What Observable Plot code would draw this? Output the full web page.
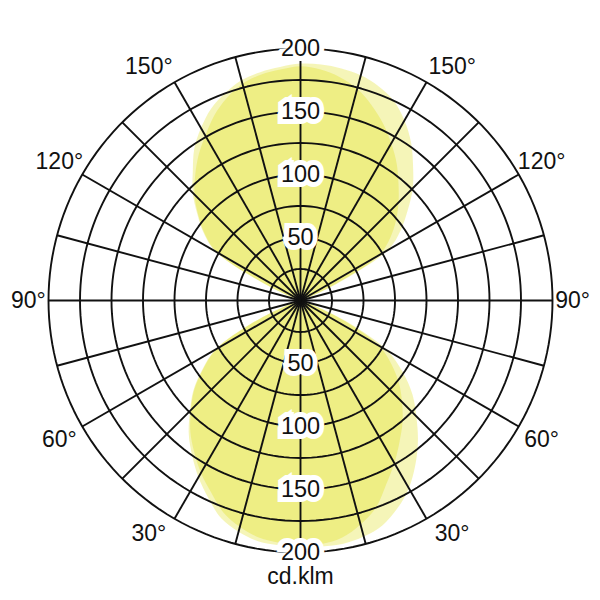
<!DOCTYPE html>
<html>
<head>
<meta charset="utf-8">
<script src="https://cdn.jsdelivr.net/npm/d3@7"></script>
<script src="https://cdn.jsdelivr.net/npm/@observablehq/plot@0.6"></script>
<style>
  html, body { margin: 0; padding: 0; background: #ffffff; }
  #chart { width: 600px; height: 600px; }
</style>
</head>
<body>
<div id="chart"></div>
<script>
// Gamma angles (0° = straight down, 180° = straight up), in degrees
const gamma = [0,5,10,15,20,25,30,35,40,45,50,55,60,65,70,75,80,85,90,95,100,105,110,115,120,125,130,135,140,145,150,155,160,165,170,175,180];

// Luminous intensity, cd/klm, per C-plane
const c0   = [195,194,191,184,175,161,149,137,126,114,102, 88, 72, 39, 11,0,0,0,0,0,0,0, 4, 29, 72, 87, 99,110,121,133,144,155,165,174,180,184,186];
const c180 = [194,193,191,186,179,168,158,147,136,123,110, 94, 77, 42, 12,0,0,0,0,0,0,0, 5, 32, 77, 93,106,119,130,141,151,162,171,178,182,184,185];
const c90  = [196,196,196,194,190,182,172,159,145,130,116, 99, 80, 44, 12,0,0,0,0,0,0,0, 5, 33, 80, 97,111,126,139,153,165,175,181,185,187,188,188];
const c270 = [196,195,194,190,184,173,162,150,138,124,111, 95, 78, 42, 12,0,0,0,0,0,0,0, 5, 32, 78, 94,107,121,133,147,158,168,175,181,184,186,187];

// Grid
const ringValues = [25,50,75,100,125,150,175,200];
const ringLabels = [50,100,150,200];
const spokeStep = 15;
const angleLabels = [30,60,90,120,150];
const unitLabel = "cd.klm";

const rad = d => d * Math.PI / 180;

function loop(right, left, plane) {
  const pts = [];
  for (let i = 0; i < gamma.length; i++) {
    const g = rad(gamma[i]);
    pts.push({plane, x: right[i] * Math.sin(g), y: -right[i] * Math.cos(g)});
  }
  for (let i = gamma.length - 2; i >= 1; i--) {
    const g = rad(gamma[i]);
    pts.push({plane, x: -left[i] * Math.sin(g), y: -left[i] * Math.cos(g)});
  }
  return pts;
}

const curveA = loop(c0, c180, "C0-C180");
const curveB = loop(c90, c270, "C90-C270");

const rings = ringValues.flatMap(v =>
  d3.range(0, 361, 2).map(a => ({ring: v, x: v * Math.sin(rad(a)), y: v * Math.cos(rad(a))}))
);
const Rmax = d3.max(ringValues);
const spokes = d3.range(0, 360, spokeStep).map(a => ({x: Rmax * Math.sin(rad(a)), y: Rmax * Math.cos(rad(a))}));

const ringText = ringLabels.flatMap(v => [{v, x: 0, y: v}, {v, x: 0, y: -v}]);

const angleText = angleLabels.flatMap(a => {
  // shift labels near the vertical slightly outward, as in the diagram
  const dist = Math.min(a, 180 - a);
  const g = a + (dist === 30 ? (a < 90 ? 3 : -3) : 0);
  const R = a === 90 ? 216 : 221;
  return [1, -1].map(side => ({
    label: `${a}°`,
    x: side * R * Math.sin(rad(g)),
    y: -R * Math.cos(rad(g))
  }));
});

const font = "Liberation Sans, Arial, Helvetica, sans-serif";
const fillColor = "#dcdc00";

const chart = Plot.plot({
  width: 600,
  height: 600,
  marginTop: 48,
  marginBottom: 48,
  marginLeft: 48,
  marginRight: 48,
  x: {domain: [-200, 200], axis: null},
  y: {domain: [-200, 200], axis: null},
  style: {background: "#ffffff", fontFamily: font},
  marks: [
    Plot.line(curveA, {x: "x", y: "y", fill: fillColor, fillOpacity: 0.28, stroke: "none", curve: "catmull-rom-closed"}),
    Plot.line(curveB, {x: "x", y: "y", fill: fillColor, fillOpacity: 0.28, stroke: "none", curve: "catmull-rom-closed"}),
    Plot.line(rings, {x: "x", y: "y", z: "ring", stroke: "#111", strokeWidth: 1.9, curve: "linear"}),
    Plot.link(spokes, {x1: 0, y1: 0, x2: "x", y2: "y", stroke: "#111", strokeWidth: 1.9}),
    Plot.text(ringText, {x: "x", y: "y", text: d => String(d.v), fontSize: 23.5, fill: "#111",
      stroke: "#ffffff", strokeWidth: 10, strokeLinejoin: "miter", fontFamily: font}),
    Plot.text(angleText, {x: "x", y: "y", text: "label", fontSize: 23, fill: "#111", fontFamily: font}),
    Plot.text([unitLabel], {frameAnchor: "bottom", dy: 31, text: d => d, fontSize: 23, fill: "#111", fontFamily: font})
  ]
});

document.getElementById("chart").appendChild(chart);
</script>
</body>
</html>
